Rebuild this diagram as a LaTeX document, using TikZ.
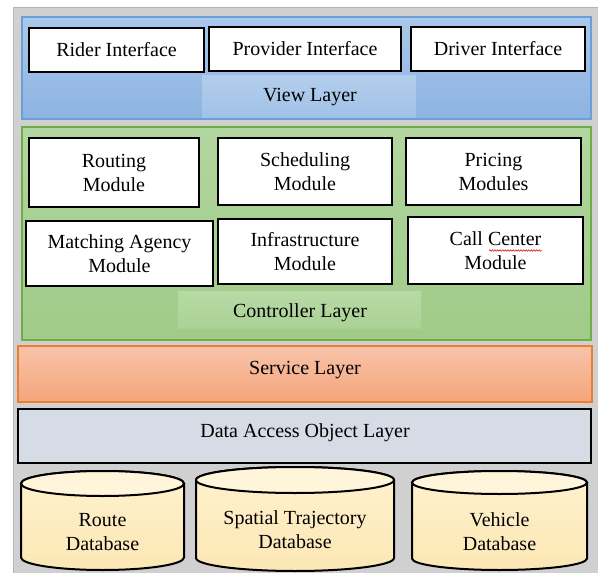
\documentclass[tikz,border=0pt]{standalone}
\usepackage{fontspec}
\setmainfont{Liberation Serif}
\newfontfamily\timesfont{Liberation Serif}
\usetikzlibrary{decorations.pathmorphing}
\definecolor{outerfill}{HTML}{D0D0D0}
\definecolor{outerdraw}{HTML}{B4B4B4}
\definecolor{bluetop}{HTML}{AAC8EA}
\definecolor{bluebot}{HTML}{8DB3E2}
\definecolor{bluehi}{HTML}{B3CEEC}
\definecolor{bluedraw}{HTML}{6A9FD8}
\definecolor{greentop}{HTML}{B2D69F}
\definecolor{greenbot}{HTML}{A0CB88}
\definecolor{greenhi}{HTML}{B8DAA6}
\definecolor{greendraw}{HTML}{70AD47}
\definecolor{orangetop}{HTML}{F8C3A9}
\definecolor{orangebot}{HTML}{F4A57B}
\definecolor{orangedraw}{HTML}{ED7D31}
\definecolor{daofill}{HTML}{D6DCE5}
\definecolor{dbtop}{HTML}{FFF5DA}
\definecolor{dbbody}{HTML}{FFF2CF}
\definecolor{dbbot}{HTML}{FCE7B4}
\begin{document}
\begin{tikzpicture}[x=1pt,y=-1pt,
  font=\timesfont\fontsize{20}{24}\selectfont,
  panel/.style={rectangle,inner sep=0pt},
  layerbox/.style={panel,line width=1.2pt},
  modbox/.style={rectangle,draw=black,line width=2.2pt,fill=white,inner sep=0pt,align=center},
  txt/.style={inner sep=0pt,align=center},
  dbline/.style={draw=black,line width=2pt}
]
\useasboundingbox (0,0) rectangle (598,573);

% outer panel
\node[panel,fill=outerfill,draw=outerdraw,line width=1pt,minimum width=585pt,minimum height=566pt] (outer) at (305.5,290) {};

% view layer
\node[layerbox,draw=bluedraw,top color=bluetop,bottom color=bluebot,minimum width=569pt,minimum height=102pt] (view) at (306.5,68) {};
\node[panel,top color=bluehi,bottom color=bluetop!70!bluebot,minimum width=214pt,minimum height=42pt] (viewhi) at (309,96) {};
\node[txt] (viewtxt) at (310,97) {View Layer};
\node[modbox,minimum width=175pt,minimum height=44pt] (rider) at (116.5,50) {Rider Interface};
\node[modbox,minimum width=192pt,minimum height=44pt] (provider) at (305,49) {Provider Interface};
\node[modbox,minimum width=174pt,minimum height=44pt] (driver) at (498,49) {Driver Interface};

% controller layer
\node[layerbox,draw=greendraw,top color=greentop,bottom color=greenbot,minimum width=569pt,minimum height=213pt] (ctrl) at (306.5,233.5) {};
\node[panel,top color=greenhi,bottom color=greentop!60!greenbot,minimum width=243pt,minimum height=37pt] (ctrlhi) at (299.5,309.5) {};
\node[txt] (ctrltxt) at (300,313) {Controller Layer};
\node[modbox,minimum width=170pt,minimum height=69pt] (routing) at (114,172.5) {Routing\\Module};
\node[modbox,minimum width=174pt,minimum height=67pt] (sched) at (305,171.5) {Scheduling\\Module};
\node[modbox,minimum width=175pt,minimum height=67pt] (pricing) at (493.5,171.5) {Pricing\\Modules};
\node[modbox,minimum width=187pt,minimum height=65pt] (matching) at (119.5,253.5) {Matching Agency\\Module};
\node[modbox,minimum width=174pt,minimum height=65pt] (infra) at (305,251.5) {Infrastructure\\Module};
\node[modbox,minimum width=175pt,minimum height=67pt] (callc) at (495.5,250.5) {Call Center\\Module};
\coordinate (sqa) at (489,250.5);
\coordinate (sqb) at (542,250.5);
\draw[red!85!black,line width=0.5pt,decorate,decoration={snake,amplitude=0.8pt,segment length=2.6pt}] (sqa) -- (sqb);

% service layer
\node[layerbox,draw=orangedraw,top color=orangetop,bottom color=orangebot,minimum width=574pt,minimum height=56pt] (service) at (305,374) {};
\node[txt] (servicetxt) at (305,370) {Service Layer};

% DAO layer
\node[panel,draw=black,line width=2.2pt,fill=daofill,minimum width=573pt,minimum height=54pt] (dao) at (304.5,436) {};
\node[txt] (daotxt) at (305,433) {Data Access Object Layer};

% databases
\foreach \cx/\rx/\yt/\yb/\ry/\nm in {102.5/81.5/471/570/12.5/dbroute, 295/99/467/571/13/dbspatial, 499.5/87.5/471/570/11.5/dbvehicle}{
  \path[dbline,top color=dbbody,bottom color=dbbot]
    (\cx-\rx,\yt+\ry) -- (\cx-\rx,\yb-\ry)
    arc[start angle=180,end angle=360,x radius=\rx pt,y radius=\ry pt]
    -- (\cx+\rx,\yt+\ry)
    arc[start angle=0,end angle=180,x radius=\rx pt,y radius=\ry pt] -- cycle;
  \path[dbline,fill=dbtop] (\cx,\yt+\ry) ellipse[x radius=\rx pt,y radius=\ry pt];
  \coordinate (\nm) at (\cx,\yt);
}
\node[txt] (routetxt) at (102.5,532.5) {Route\\Database};
\node[txt] (spatialtxt) at (295,530) {Spatial Trajectory\\Database};
\node[txt] (vehicletxt) at (499.5,531.5) {Vehicle\\Database};
\end{tikzpicture}
\end{document}
